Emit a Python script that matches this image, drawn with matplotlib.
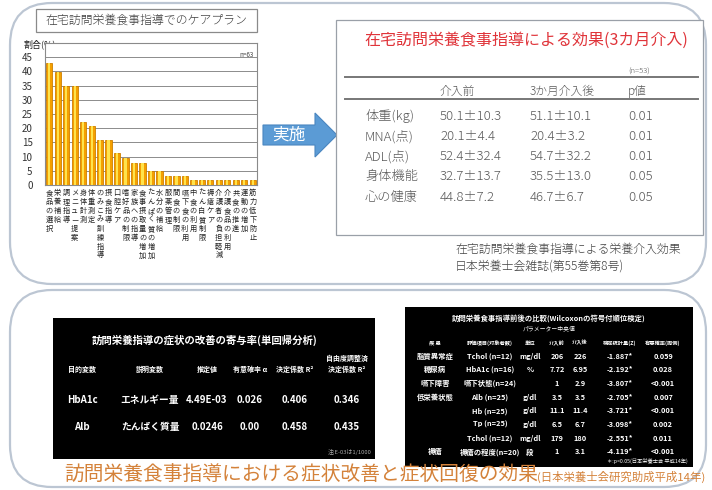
import matplotlib.pyplot as plt
from matplotlib.patches import FancyBboxPatch, Rectangle, Polygon

plt.rcParams['font.family'] = ['Noto Sans CJK JP', 'DejaVu Sans']

# ケアプラン項目と割合(%)
care_items = ['食品の選択', '栄養補給', '調理指導', 'メニュー提案', '身体計測', '体重測定',
              'のみこみ訓練指導', '摂食指導', '口腔ケア', '嗜好品の制限', '家族への指導',
              '食事摂取量の増加', 'たんぱく質の増加', '水分の補給', '服薬管理', '間食の制限',
              '嚥下食の利用', '中食の利用', 'たん白質制限', '褥瘡ケア', '介護者の負担軽減',
              '介護食品の利用', '共食の推進', '運動の増加', '筋力低下防止']
care_pct = [42.9, 39.7, 34.9, 34.9, 22.2, 20.6, 15.9, 15.9, 11.1, 9.5, 7.9, 7.9, 4.8,
            4.8, 3.2, 3.2, 3.2, 1.6, 1.6, 1.6, 1.6, 1.6, 1.6, 1.6, 1.6]

# 3カ月介入の効果
eff_items = ['体重(kg)', 'MNA(点)', 'ADL(点)', '身体機能', '心の健康']
eff_before = ['50.1±10.3', '20.1±4.4', '52.4±32.4', '32.7±13.7', '44.8±7.2']
eff_after = ['51.1±10.1', '20.4±3.2', '54.7±32.2', '35.5±13.0', '46.7±6.7']
eff_p = ['0.01', '0.01', '0.01', '0.05', '0.05']

# 単回帰分析
reg_header = ['目的変数', '説明変数', '推定値', '有意確率 α', '決定係数 R²', '自由度調整済\n決定係数 R²']
reg_rows = [['HbA1c', 'エネルギー量', '4.49E-03', '0.026', '0.406', '0.346'],
            ['Alb', 'たんぱく質量', '0.0246', '0.00', '0.458', '0.435']]

# Wilcoxon 検定
wil_header = ['疾 患', '評価項目(対象者数)', '単位', '介入前', '介入後', '検定統計量(Z)', '有意確率(両側)']
wil_rows = [['脂質異常症', 'Tchol (n=12)', 'mg/dl', '206', '226', '-1.887*', '0.059'],
            ['糖尿病', 'HbA1c (n=16)', '%', '7.72', '6.95', '-2.192*', '0.028'],
            ['嚥下障害', '嚥下状態(n=24)', '', '1', '2.9', '-3.807*', '<0.001'],
            ['低栄養状態', 'Alb (n=25)', 'g/dl', '3.5', '3.5', '-2.705*', '0.007'],
            ['', 'Hb (n=25)', 'g/dl', '11.1', '11.4', '-3.721*', '<0.001'],
            ['', 'Tp (n=25)', 'g/dl', '6.5', '6.7', '-3.098*', '0.002'],
            ['', 'Tchol (n=12)', 'mg/dl', '179', '180', '-2.551*', '0.011'],
            ['褥瘡', '褥瘡の程度(n=20)', '段', '1', '3.1', '-4.119*', '<0.001']]

W, H = 712, 490
fig = plt.figure(figsize=(W / 100, H / 100), dpi=100)
bg = fig.add_axes([0, 0, 1, 1])
bg.set_xlim(0, W)
bg.set_ylim(H, 0)
bg.axis('off')

def px(x, y, w, h):
    return [x / W, 1 - (y + h) / H, w / W, h / H]

# panels
for (x, y, w, h) in [(10, 3, 696, 281), (10, 290, 696, 197)]:
    bg.add_patch(FancyBboxPatch((x, y), w, h, boxstyle='round,pad=0,rounding_size=42',
                                fc='white', ec='#bcc6d3', lw=1.6))

# left title box
bg.add_patch(Rectangle((36, 9), 221, 23, fc='white', ec='#8a8a8a', lw=0.9))
bg.text(146, 20.5, '在宅訪問栄養食事指導でのケアプラン', fontsize=8.6, color='#404040',
        ha='center', va='center', fontweight='light')
bg.text(24, 44, '割合(%)', fontsize=6.5, color='#222', va='center')

# bar chart
ax = fig.add_axes(px(45, 43, 212, 142))
x = range(len(care_items))
ax.bar(x, care_pct, width=0.74, color='#f4a000', edgecolor='#cf7f00', lw=0.6, zorder=2)
ax.bar(x, care_pct, width=0.26, color='#ffe34d', lw=0, zorder=3)
ax.set_xlim(-0.5, len(care_items) - 0.5)
ax.set_ylim(0, 50)
ax.set_yticks(range(0, 50, 5))
ax.yaxis.grid(True, color='#7a7a7a', lw=0.6)
ax.set_axisbelow(True)
ax.set_xticks(list(x))
ax.set_xticklabels(['\n'.join(s) for s in care_items], fontsize=5.2, linespacing=1.15,
                   color='#222')
ax.tick_params(axis='y', length=0, pad=9, labelsize=7, labelcolor='#333')
ax.tick_params(axis='x', length=0, pad=3)
for s in ax.spines.values():
    s.set_color('#8a8a8a')
    s.set_linewidth(0.8)
ax.text(0.985, 0.9, 'n=63', transform=ax.transAxes, fontsize=4.5, color='#444',
        ha='right', style='italic')

# arrow
bg.add_patch(Polygon([(263, 125), (315, 125), (315, 113), (337, 135), (315, 157),
                      (315, 145), (263, 145)], closed=True, fc='#5b9bd5', ec='#4a86c0', lw=0.8))
bg.text(289, 135, '実施', fontsize=12, color='white', ha='center', va='center')

# effect table
tc = '#5a5a5a'
bg.add_patch(Rectangle((336, 20), 367, 215, fc='white', ec='#9aa0a8', lw=0.9))
bg.text(526, 40, '在宅訪問栄養食事指導による効果(3カ月介入)', fontsize=11.5, color='#e0343a',
        ha='center', va='center')
bg.text(628, 72, '(n=53)', fontsize=5.5, color=tc, va='center', fontweight='light')
bg.plot([345, 698], [77, 77], color='#777', lw=1.4)
bg.plot([345, 698], [99, 99], color='#777', lw=1.4)
for xx, t in zip([440, 530, 628], ['介入前', '3か月介入後', 'p値']):
    bg.text(xx, 91, t, fontsize=8.5, color=tc, va='center', fontweight='light')
for i in range(len(eff_items)):
    yy = 116 + i * 20.3
    for xx, t in zip([365, 440, 530, 628], [eff_items[i], eff_before[i], eff_after[i], eff_p[i]]):
        bg.text(xx, yy, t, fontsize=9.5, color=tc, va='center', fontweight='light')
bg.text(455, 249, '在宅訪問栄養食事指導による栄養介入効果', fontsize=8.6, color='#444',
        va='center', fontweight='light')
bg.text(455, 266, '日本栄養士会雑誌(第55巻第8号)', fontsize=8.6, color='#444', va='center',
        fontweight='light')

# regression box
bg.add_patch(Rectangle((53, 318), 322, 141, fc='black', ec='none'))
bg.text(205, 340, '訪問栄養指導の症状の改善の寄与率(単回帰分析)', fontsize=7.5, color='white',
        ha='center', va='center', fontweight='bold')
reg_x = [82, 150, 207, 250, 295, 347]
for xx, t in zip(reg_x, reg_header):
    bg.text(xx, 373, t, fontsize=5, color='white', ha='center', va='bottom',
            fontweight='bold', linespacing=1.6)
for j, row in enumerate(reg_rows):
    for xx, t in zip(reg_x, row):
        bg.text(xx, 400 + j * 27, t, fontsize=7, color='white', ha='center', va='center',
                fontweight='bold')
bg.text(372, 452, '注:E-03は1/1000', fontsize=4.2, color='#aaa', ha='right', va='center')

# wilcoxon box
bg.add_patch(Rectangle((405, 307), 288, 160, fc='black', ec='none'))
bg.text(549, 319, '訪問栄養食事指導前後の比較(Wilcoxonの符号付順位検定)', fontsize=5.3,
        color='white', ha='center', va='center', fontweight='bold')
bg.text(549, 329, 'パラメーター中央値', fontsize=4.2, color='white', ha='center', va='center')
wil_x = [435, 490, 530, 557, 580, 620, 663]
for xx, t in zip(wil_x, wil_header):
    bg.text(xx, 343, t, fontsize=3.8, color='white', ha='center', va='center', fontweight='bold')
for j, row in enumerate(wil_rows):
    for xx, t in zip(wil_x, row):
        bg.text(xx, 356 + j * 13.7, t, fontsize=5.3, color='white', ha='center', va='center',
                fontweight='bold')
bg.text(688, 461, '＊:p<0.05(日本栄養士会 平成14年)', fontsize=3.8, color='white', ha='right',
        va='center')

# bottom title
bg.text(64, 475, '訪問栄養食事指導における症状改善と症状回復の効果', fontsize=14.2,
        color='#d4823a', va='center')
bg.text(537, 477, '(日本栄養士会研究助成平成14年)', fontsize=8.2, color='#d4823a', va='center')

fig.savefig('out.png', dpi=100)
